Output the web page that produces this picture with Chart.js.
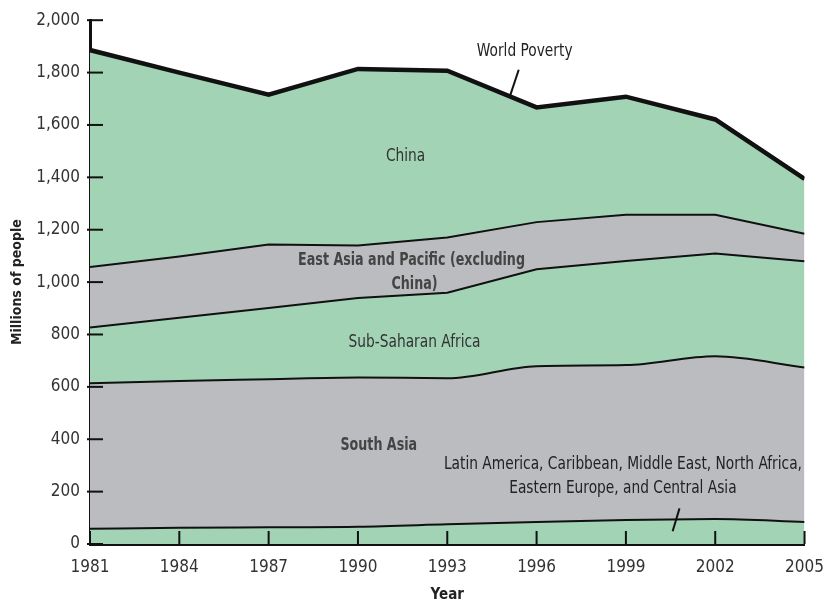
<!DOCTYPE html>
<html>
<head>
<meta charset="utf-8">
<script src="https://cdn.jsdelivr.net/npm/chart.js@4.4.1/dist/chart.umd.min.js"></script>
<style>
  html, body { margin: 0; padding: 0; background: #fff; }
  #wrap { width: 837px; height: 605px; }
</style>
</head>
<body>
<div id="wrap"><canvas id="povertyChart" width="837" height="605"></canvas></div>
<script>
// millions of people
const years = [1981, 1984, 1987, 1990, 1993, 1996, 1999, 2002, 2005];
const otherRegions = [58, 62, 64, 66, 75, 84, 92, 95, 84];
const southAsia = [556, 560, 565, 570, 558, 595, 591, 622, 590];
const subSaharanAfrica = [213, 242, 272, 303, 326, 370, 398, 392, 406];
const eastAsiaExChina = [231, 234, 243, 201, 211, 180, 176, 148, 105];
const china = [828, 702, 572, 674, 637, 438, 451, 364, 209];
const yTicks = [0, 200, 400, 600, 800, 1000, 1200, 1400, 1600, 1800, 2000];

const GREEN = '#a3d3b5';
const GRAY = '#babcbf';
const FONT = '"DejaVu Sans Condensed", "Liberation Sans Narrow", sans-serif';

const pts = arr => arr.map((v, i) => ({ x: years[i], y: v }));

function layer(label, values, color, fill, width, smooth) {
  return {
    label,
    data: pts(values),
    backgroundColor: color,
    borderColor: '#111',
    borderWidth: width,
    fill,
    pointRadius: 0,
    tension: 0,
    cubicInterpolationMode: smooth ? 'monotone' : 'default'
  };
}

// texte et traits dans le graphique
const notes = {
  id: 'notes',
  afterDatasetsDraw(chart) {
    const { ctx, chartArea: a, scales: { x, y } } = chart;
    ctx.save();
    ctx.strokeStyle = '#111';
    ctx.lineWidth = 2;
    const seg = (x1, y1, x2, y2) => {
      ctx.beginPath(); ctx.moveTo(x1, y1); ctx.lineTo(x2, y2); ctx.stroke();
    };
    yTicks.forEach(v => {
      const py = y.getPixelForValue(v);
      seg(a.left - 3, py, a.left + 13, py);
    });
    years.forEach(v => {
      const px = x.getPixelForValue(v);
      seg(px, a.bottom, px, a.bottom - 13);
    });
    // leader lines
    seg(x.getPixelForValue(1995.4), y.getPixelForValue(1811), x.getPixelForValue(1995.1), y.getPixelForValue(1708));
    seg(x.getPixelForValue(2000.8), y.getPixelForValue(136), x.getPixelForValue(2000.57), y.getPixelForValue(49));

    ctx.textAlign = 'center';
    ctx.textBaseline = 'middle';
    const txt = (t, xv, yv, font, color, sx) => {
      ctx.save();
      ctx.font = font;
      ctx.fillStyle = color;
      ctx.translate(x.getPixelForValue(xv), y.getPixelForValue(yv));
      ctx.scale(sx, 1);
      ctx.fillText(t, 0, 0);
      ctx.restore();
    };
    const plain = '17px ' + FONT;
    const heavy = 'bold 17px ' + FONT;
    txt('World Poverty', 1995.6, 1879, plain, '#222', 0.9);
    txt('China', 1991.6, 1481, plain, '#333', 0.9);
    txt('East Asia and Pacific (excluding', 1991.8, 1083, heavy, '#444', 0.83);
    txt('China)', 1991.9, 989, heavy, '#444', 0.83);
    txt('Sub-Saharan Africa', 1991.9, 769, plain, '#333', 0.9);
    txt('South Asia', 1990.7, 375, heavy, '#444', 0.83);
    txt('Latin America, Caribbean, Middle East, North Africa,', 1998.9, 303, plain, '#222', 0.9);
    txt('Eastern Europe, and Central Asia', 1998.9, 212, plain, '#222', 0.9);
    ctx.restore();
  }
};

new Chart(document.getElementById('povertyChart'), {
  type: 'line',
  data: {
    datasets: [
      layer('Latin America, Caribbean, Middle East, North Africa, Eastern Europe, and Central Asia', otherRegions, GREEN, 'origin', 2, true),
      layer('South Asia', southAsia, GRAY, '-1', 2, true),
      layer('Sub-Saharan Africa', subSaharanAfrica, GREEN, '-1', 2, false),
      layer('East Asia and Pacific (excluding China)', eastAsiaExChina, GRAY, '-1', 2, false),
      layer('China', china, GREEN, '-1', 4.5, false)
    ]
  },
  options: {
    responsive: false,
    animation: false,
    layout: { padding: { top: 18, right: 20, bottom: 0, left: 0 } },
    plugins: { legend: { display: false }, tooltip: { enabled: false } },
    scales: {
      x: {
        type: 'linear',
        min: 1981,
        max: 2005,
        afterBuildTicks: s => { s.ticks = years.map(v => ({ value: v })); },
        afterFit: s => { s.height = 61; },
        grid: { display: false, drawTicks: false },
        border: { display: true, color: '#111', width: 3 },
        ticks: {
          padding: 13,
          color: '#333',
          font: { family: FONT, size: 17 },
          callback: v => String(v),
          maxRotation: 0
        },
        title: {
          display: true,
          text: 'Year',
          color: '#222',
          font: { family: FONT, size: 15, weight: 'bold' },
          padding: { top: 0, bottom: 1 }
        }
      },
      y: {
        stacked: true,
        min: 0,
        max: 2000,
        afterBuildTicks: s => { s.ticks = yTicks.map(v => ({ value: v })); },
        afterFit: s => { s.width = 90; },
        grid: { display: false, drawTicks: false },
        border: { display: true, color: '#111', width: 3 },
        ticks: {
          padding: 10,
          color: '#333',
          font: { family: FONT, size: 17 },
          callback: v => v.toLocaleString('en-US')
        },
        title: {
          display: true,
          text: 'Millions of people',
          color: '#222',
          font: { family: FONT, size: 14, weight: 'bold' },
          padding: { top: 9, bottom: 0 }
        }
      }
    }
  },
  plugins: [notes]
});
</script>
</body>
</html>
